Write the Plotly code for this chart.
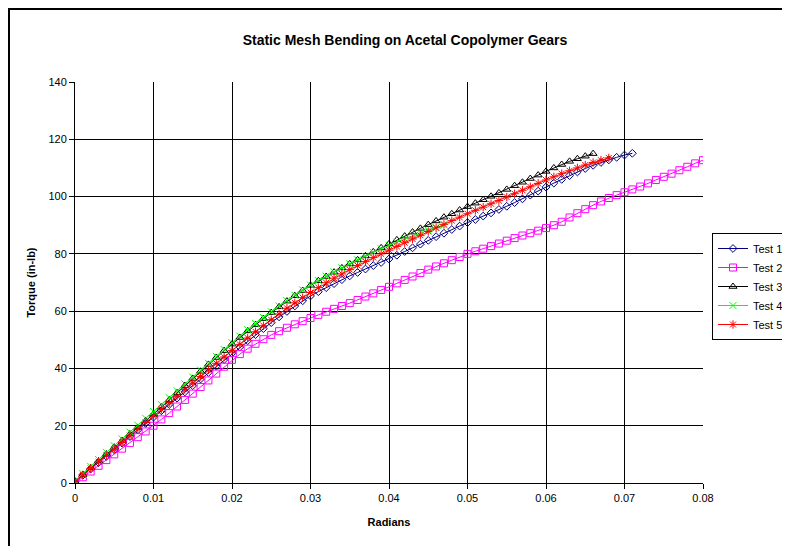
import plotly.graph_objects as go

# Radian sample positions (shared grid where values were read)
radians = [0.000, 0.001, 0.002, 0.003, 0.004, 0.005, 0.006, 0.007, 0.008, 0.009,
           0.010, 0.011, 0.012, 0.013, 0.014, 0.015, 0.016, 0.017, 0.018, 0.019,
           0.020, 0.021, 0.022, 0.023, 0.024, 0.025, 0.026, 0.027, 0.028, 0.029,
           0.030, 0.031, 0.032, 0.033, 0.034, 0.035, 0.036, 0.037, 0.038, 0.039,
           0.040, 0.041, 0.042, 0.043, 0.044, 0.045, 0.046, 0.047, 0.048, 0.049,
           0.050, 0.051, 0.052, 0.053, 0.054, 0.055, 0.056, 0.057, 0.058, 0.059,
           0.060, 0.061, 0.062, 0.063, 0.064, 0.065, 0.066, 0.067, 0.068, 0.069,
           0.070, 0.071, 0.072, 0.073, 0.074, 0.075, 0.076, 0.077, 0.078, 0.079,
           0.080]

test1 = [0.5, 2.7, 4.9, 7.1, 9.3, 11.6, 13.9, 16.2, 18.5, 20.8,
         23.0, 25.2, 27.4, 29.6, 31.8, 34.0, 36.3, 38.6, 40.8, 43.1,
         45.3, 47.5, 49.7, 51.8, 53.9, 56.0, 58.0, 59.9, 61.8, 63.6,
         65.3, 66.8, 68.2, 69.6, 71.0, 72.3, 73.5, 74.7, 75.9, 77.0,
         78.2, 79.5, 80.8, 82.1, 83.4, 84.7, 86.0, 87.2, 88.5, 89.7,
         90.9, 92.0, 93.2, 94.3, 95.5, 96.6, 97.9, 99.2, 100.5, 101.9,
         103.3, 104.7, 106.0, 107.3, 108.6, 109.8, 110.9, 111.9, 112.8, 113.7,
         114.5, 115.1]

test2 = [0.0, 2.0, 4.0, 6.0, 8.0, 10.0, 12.0, 14.0, 16.0, 18.0,
         20.0, 22.2, 24.4, 26.7, 29.0, 31.2, 33.5, 35.8, 38.2, 40.6,
         43.0, 45.0, 46.9, 48.6, 50.2, 51.7, 53.0, 54.2, 55.4, 56.5,
         57.6, 58.7, 59.8, 60.8, 61.8, 62.8, 63.9, 65.1, 66.2, 67.4,
         68.5, 69.7, 70.9, 72.1, 73.3, 74.5, 75.6, 76.7, 77.8, 78.9,
         80.0, 80.9, 81.8, 82.7, 83.6, 84.6, 85.5, 86.4, 87.2, 88.1,
         89.0, 90.0, 91.2, 92.7, 94.2, 95.6, 97.0, 98.3, 99.5, 100.5,
         101.5, 102.5, 103.5, 104.6, 105.8, 106.9, 108.0, 109.2, 110.4, 111.6,
         112.7]

test3 = [0.5, 2.9, 5.3, 7.7, 10.1, 12.5, 14.8, 17.1, 19.4, 21.7,
         24.0, 26.5, 29.0, 31.5, 34.0, 36.5, 39.0, 41.4, 43.8, 46.2,
         48.5, 50.8, 53.1, 55.3, 57.4, 59.5, 61.5, 63.5, 65.4, 67.2,
         69.0, 70.6, 72.1, 73.6, 75.1, 76.5, 77.9, 79.3, 80.7, 82.1,
         83.5, 84.9, 86.2, 87.6, 88.9, 90.2, 91.5, 92.8, 94.0, 95.3,
         96.5, 97.7, 98.9, 100.1, 101.3, 102.5, 103.8, 105.0, 106.3, 107.5,
         108.8, 110.0, 111.2, 112.3, 113.2, 114.1, 115.0]

test4 = [0.8, 3.3, 5.8, 8.2, 10.6, 13.0, 15.4, 17.8, 20.2, 22.6,
         25.0, 27.4, 29.8, 32.2, 34.6, 37.0, 39.4, 41.8, 44.2, 46.6,
         49.0, 51.3, 53.5, 55.7, 57.8, 59.8, 61.8, 63.7, 65.6, 67.4,
         69.1, 70.7, 72.2, 73.7, 75.1, 76.5, 77.9, 79.2, 80.5, 81.8,
         83.0, 84.1, 85.2, 86.3, 87.3, 88.3, 89.2, 90.0]

test5 = [0.5, 2.8, 5.1, 7.4, 9.6, 11.8, 14.1, 16.5, 18.8, 21.1,
         23.4, 25.7, 28.0, 30.3, 32.6, 34.9, 37.2, 39.5, 41.8, 44.0,
         46.2, 48.4, 50.6, 52.8, 54.9, 57.0, 59.0, 61.0, 62.9, 64.7,
         66.5, 68.2, 69.9, 71.5, 73.0, 74.5, 75.9, 77.3, 78.7, 80.0,
         81.3, 82.6, 83.9, 85.2, 86.5, 87.8, 89.1, 90.3, 91.6, 92.8,
         94.0, 95.2, 96.3, 97.5, 98.6, 99.8, 101.0, 102.2, 103.4, 104.6,
         105.8, 106.9, 108.0, 109.0, 110.0, 111.0, 111.9, 112.7, 113.5]

series_names = ["Test 1", "Test 2", "Test 3", "Test 4", "Test 5"]
series_values = [test1, test2, test3, test4, test5]
colors = ["#000080", "#FF00FF", "#000000", "#00FF00", "#FF0000"]
symbols = ["diamond-open", "square-open", "triangle-up-open", "x-thin-open", "asterisk-open"]
sizes = [6, 7, 7, 7, 7]

x_tickvals = [0, 0.01, 0.02, 0.03, 0.04, 0.05, 0.06, 0.07, 0.08]
x_ticktext = ["0", "0.01", "0.02", "0.03", "0.04", "0.05", "0.06", "0.07", "0.08"]
y_tickvals = [0, 20, 40, 60, 80, 100, 120, 140]

fig = go.Figure()
for name, vals, c, s, sz in zip(series_names, series_values, colors, symbols, sizes):
    fig.add_trace(go.Scatter(
        x=radians[:len(vals)], y=vals, name=name, mode="lines+markers",
        line=dict(color=c, width=1),
        marker=dict(symbol=s, size=sz, color=c, line=dict(color=c, width=1)),
    ))

font = "Liberation Sans, Arial, sans-serif"
# figure is offset by the 8px page margin: plot area target 67..695 x, 74..475 y
fig.update_layout(
    width=790, height=546,
    margin=dict(l=67, r=95, t=74, b=71, autoexpand=False),
    paper_bgcolor="white", plot_bgcolor="white",
    font=dict(family=font, size=11, color="black"),
    title=dict(text="<b>Static Mesh Bending on Acetal Copolymer Gears</b>",
               x=397 / 790, xanchor="center", y=1 - 32 / 546, yanchor="middle",
               font=dict(size=14, family=font)),
    showlegend=True,
    legend=dict(xref="container", yref="container",
                x=704 / 790, y=1 - 225 / 546, xanchor="left", yanchor="top",
                bordercolor="black", borderwidth=1, bgcolor="white",
                font=dict(size=11, family=font), itemwidth=30,
                tracegroupgap=0),
    xaxis=dict(range=[0, 0.08], tickvals=x_tickvals, ticktext=x_ticktext,
               showgrid=True, gridcolor="black", gridwidth=1,
               showline=True, linecolor="black", linewidth=1,
               ticks="outside", ticklen=5, tickcolor="black",
               zeroline=False, automargin=False,
               title=dict(text="<b>Radians</b>", font=dict(size=11), standoff=15)),
    yaxis=dict(range=[0, 140], tickvals=y_tickvals,
               showgrid=True, gridcolor="black", gridwidth=1,
               showline=True, linecolor="black", linewidth=1,
               ticks="outside", ticklen=5, tickcolor="black",
               zeroline=False, automargin=False,
               title=dict(text="<b>Torque (in-lb)</b>", font=dict(size=11), standoff=10)),
)

# chart-area frame (extends past the right and bottom edges)
fig.add_shape(type="rect", xref="paper", yref="paper",
              x0=(1 - 67) / 628, x1=(830 - 67) / 628,
              y0=(475 - 600) / 401, y1=(475 - 1) / 401,
              line=dict(color="black", width=2), fillcolor="rgba(0,0,0,0)", layer="below")

fig.write_html("out.html")
